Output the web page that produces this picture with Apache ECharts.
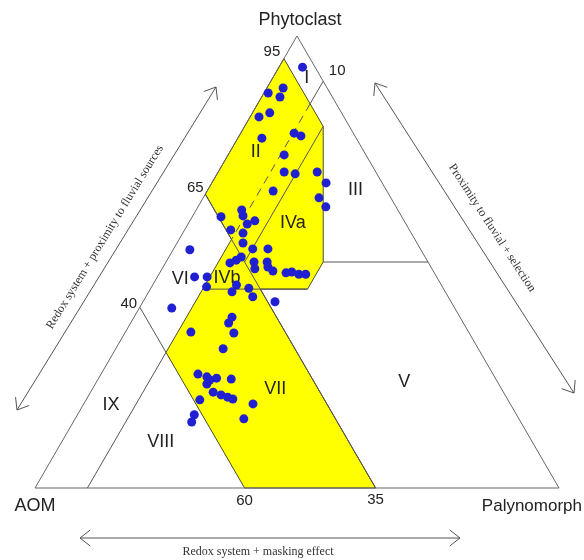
<!DOCTYPE html>
<html><head><meta charset="utf-8">
<script src="https://cdn.jsdelivr.net/npm/echarts/dist/echarts.min.js"></script>
<style>html,body{margin:0;padding:0;background:#fff}#c{width:584px;height:560px}</style>
</head><body><div id="c"></div>
<script>
// Sample composition (%): AOM, Phytoclast, Palynomorph
const aom         = [2.4,8.4,11.8,10.0,16.2,13.7,18.0,11.3,10.3,15.6,17.5,15.6,11.2,10.7,21.7,13.7,13.4,34.5,29.8,30.2,28.5,30.3,34.1,32.1,33.2,44.1,32.0,29.1,35.1,36.4,37.9,33.2,30.7,31.1,33.8,30.6,28.3,27.1,26.0,24.7,46.2,43.8,45.0,39.1,40.7,37.1,37.3,33.6,54.0,43.5,44.8,53.0,44.9,48.7,56.3,54.9,54.7,53.2,55.7,50.5,55.4,54.2,53.2,52.4,58.8,49.1,52.5,61.5,62.8];
const phytoclast  = [93.1,88.5,87.4,86.5,82.1,83.0,77.4,78.5,77.9,73.7,69.9,69.5,69.9,67.5,65.7,64.2,62.2,60.0,61.5,60.2,59.1,58.4,57.1,56.4,54.2,52.7,52.9,52.9,51.1,50.4,49.8,50.0,50.0,48.9,48.5,48.0,47.6,47.8,47.3,47.3,46.7,46.7,44.5,44.9,43.4,44.2,42.3,41.2,39.8,37.8,36.5,34.5,34.3,30.8,25.2,24.6,23.9,24.3,23.0,24.1,21.2,20.6,20.1,19.7,19.5,18.6,15.3,16.2,14.6];
const palynomorph = [4.5,3.1,0.8,3.5,1.7,3.3,4.6,10.2,11.8,10.7,12.6,14.9,18.9,21.8,12.6,22.1,24.4,5.5,8.7,9.6,12.4,11.3,8.8,11.5,12.6,3.2,15.1,18.0,13.8,13.2,12.3,16.8,19.3,20.0,17.7,21.4,24.1,25.1,26.7,28.0,7.1,9.5,10.5,16.0,15.9,18.7,20.4,25.2,6.2,18.7,18.7,12.5,20.8,20.5,18.5,20.5,21.4,22.5,21.3,25.4,23.4,25.2,26.7,27.9,21.7,32.3,32.2,22.3,22.6];

// Field geometry as [Phytoclast %, Palynomorph %]
const outline     = [[100,0],[0,0],[0,100]];
const yellowField = [[95,0],[80,15],[50,30],[44,30],[44,21],[0,65],[0,40],[30,10],[55,10],[65,0]];
const solidLines  = [
  [[90,10],[85,10]],  // Palynomorph 10 (I / III)
  [[65,0],[0,65]],    // AOM 35
  [[40,0],[30,10]],   // AOM 60 (VI / IX)
  [[0,10],[30,10]],   // Palynomorph 10 (VIII / IX)
  [[80,15],[50,15]],  // Palynomorph 15 (II / IVa)
  [[44,10],[44,30]],  // Phytoclast 44
  [[50,30],[50,50]]   // Phytoclast 50 (III / V)
];
const dashedLines = [[[85,10],[55,10]]];
// tick labels: text, anchor [P, M]
const tickLabels = [['95',[95,0]],['65',[65,0]],['40',[40,0]],['10',[90,10]],['60',[0,40]],['35',[0,65]]];
const tickOffsets = [[-12,-7],[-10,-6],[-11,-3],[14,-10],[0,13],[0,12]];
// field names and their label anchors [P, M]
const fieldNames  = ['I','II','III','IVa','IVb','V','VI','VII','VIII','IX'];
const fieldAnchor = [[90.7,6.5],[74.3,5.0],[65.9,28.2],[58.6,19.9],[46.5,13.4],[23.5,58.7],[46.2,4.6],[21.9,34.9],[10.2,18.9],[18.4,5.3]];

function tern(p, m) { return [m + p / 2, p]; }

const pts = aom.map((a, i) => {
  const s = a + phytoclast[i] + palynomorph[i];
  return tern(phytoclast[i] / s * 100, palynomorph[i] / s * 100);
});

function arrowParts(x1, y1, x2, y2) {
  const L = 13, th = 38 * Math.PI / 180;
  const dx = x2 - x1, dy = y2 - y1, len = Math.hypot(dx, dy);
  const ux = dx / len, uy = dy / len;
  const head = (tx, ty, vx, vy) => {
    const a1 = [tx - L * (vx * Math.cos(th) - vy * Math.sin(th)), ty - L * (vx * Math.sin(th) + vy * Math.cos(th))];
    const a2 = [tx - L * (vx * Math.cos(-th) - vy * Math.sin(-th)), ty - L * (vx * Math.sin(-th) + vy * Math.cos(-th))];
    return {type: 'polyline', shape: {points: [a1, [tx, ty], a2]}, style: {stroke: '#555', lineWidth: 1, fill: null}};
  };
  return [
    {type: 'line', shape: {x1, y1, x2, y2}, style: {stroke: '#555', lineWidth: 1}},
    head(x2, y2, ux, uy),
    head(x1, y1, -ux, -uy)
  ];
}

const chart = echarts.init(document.getElementById('c'), null, {renderer: 'canvas'});
const serifFont = '"Liberation Serif", "Times New Roman", serif';
const sansFont = '"Liberation Sans", Arial, sans-serif';

chart.setOption({
  animation: false,
  grid: {left: 35, right: 25, top: 36, bottom: 72},
  xAxis: {type: 'value', min: 0, max: 100, show: false},
  yAxis: {type: 'value', min: 0, max: 100, show: false},
  graphic: [
    {type: 'text', x: 300, y: 20, style: {text: 'Phytoclast', font: '18px ' + sansFont, fill: '#222', align: 'center', verticalAlign: 'middle'}},
    {type: 'text', x: 35, y: 506, style: {text: 'AOM', font: '18px ' + sansFont, fill: '#222', align: 'center', verticalAlign: 'middle'}},
    {type: 'text', x: 582, y: 506, style: {text: 'Palynomorph', font: '17px ' + sansFont, fill: '#222', align: 'right', verticalAlign: 'middle'}},
    {type: 'group', children: arrowParts(80, 538, 460, 538)},
    {type: 'text', x: 258, y: 552, style: {text: 'Redox system + masking effect', font: '12px ' + serifFont, fill: '#333', align: 'center', verticalAlign: 'middle'}},
    {type: 'group', children: arrowParts(17, 410, 216, 87)},
    {type: 'text', x: 105, y: 237, rotation: 58.5 * Math.PI / 180, style: {text: 'Redox system + proximity to fluvial sources', font: '12px ' + serifFont, fill: '#333', align: 'center', verticalAlign: 'middle'}},
    {type: 'group', children: arrowParts(375, 83, 574, 393)},
    {type: 'text', x: 492, y: 228, rotation: -57 * Math.PI / 180, style: {text: 'Proximity to fluvial + selection', font: '12px ' + serifFont, fill: '#333', align: 'center', verticalAlign: 'middle'}}
  ],
  series: [
    {
      type: 'custom', coordinateSystem: 'cartesian2d', data: [[0, 0]], silent: true, z: 1, clip: false,
      renderItem: function (params, api) {
        const pt = (pm) => api.coord(tern(pm[0], pm[1]));
        const ch = [];
        ch.push({type: 'polygon', shape: {points: yellowField.map(pt)}, style: {fill: '#ffff00', stroke: '#4a4a2a', lineWidth: 1}});
        ch.push({type: 'polygon', shape: {points: outline.map(pt)}, style: {fill: null, stroke: '#666', lineWidth: 1}});
        solidLines.forEach(l => ch.push({type: 'polyline', shape: {points: l.map(pt)}, style: {stroke: '#555', lineWidth: 1, fill: null}}));
        dashedLines.forEach(l => ch.push({type: 'polyline', shape: {points: l.map(pt)}, style: {stroke: '#555', lineWidth: 1, fill: null, lineDash: [8, 6]}}));
        tickLabels.forEach((t, i) => {
          const c = pt(t[1]);
          ch.push({type: 'text', x: c[0] + tickOffsets[i][0], y: c[1] + tickOffsets[i][1], style: {text: t[0], font: '15px ' + sansFont, fill: '#222', align: 'center', verticalAlign: 'middle'}});
        });
        fieldNames.forEach((n, i) => {
          const c = pt(fieldAnchor[i]);
          ch.push({type: 'text', x: c[0], y: c[1], style: {text: n, font: '18px ' + sansFont, fill: '#222', align: 'center', verticalAlign: 'middle'}});
        });
        return {type: 'group', children: ch};
      }
    },
    {
      type: 'scatter', data: pts, symbolSize: 9, z: 3,
      itemStyle: {color: '#2020d0', opacity: 1}
    }
  ]
});
</script>
</body></html>
